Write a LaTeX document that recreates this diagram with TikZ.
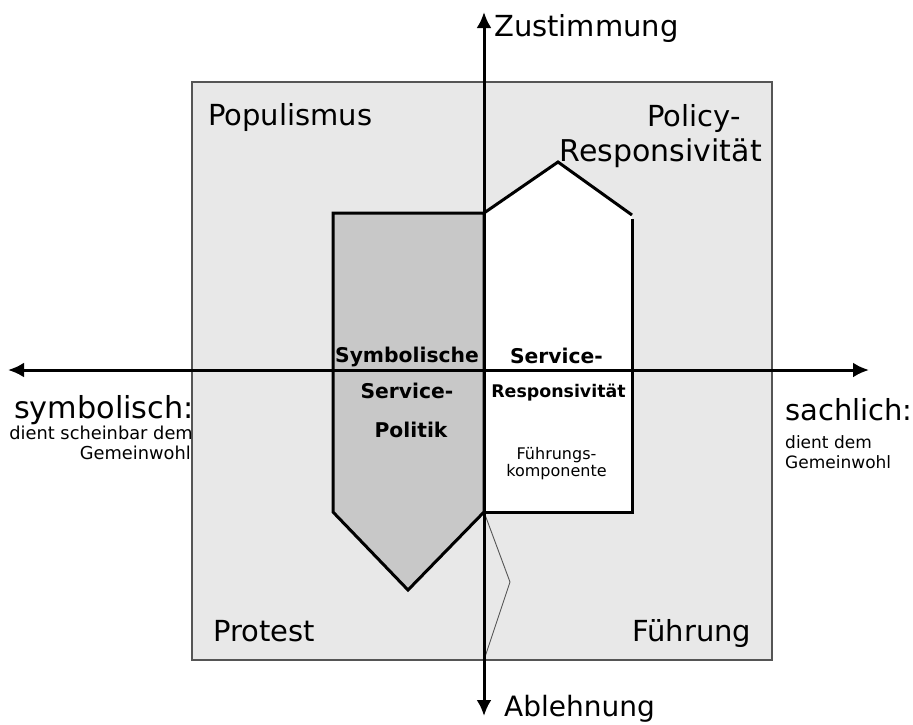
\documentclass[tikz,border=0pt]{standalone}
\usepackage{fontspec}
\setmainfont{DejaVu Sans}
\usetikzlibrary{arrows.meta}
\definecolor{panel}{HTML}{E8E8E8}
\definecolor{shade}{HTML}{C8C8C8}
\definecolor{frame}{HTML}{555555}
\tikzset{
  axis/.style={line width=3pt,{Latex[length=16pt,width=15pt]}-{Latex[length=16pt,width=15pt]}},
  shapeline/.style={line width=3pt,line join=miter},
  big/.style={font=\fontsize{29}{33}\selectfont,inner sep=0pt},
  small/.style={font=\fontsize{17}{20}\selectfont,inner sep=0pt},
  boldlbl/.style={font=\bfseries\fontsize{20.3}{24}\selectfont,inner sep=0pt},
}
\begin{document}
\begin{tikzpicture}[x=1pt,y=-1pt]
\useasboundingbox (0,0) rectangle (913,724);
% quadrant panel
\draw[fill=panel,draw=frame,line width=1.2pt] (192,82) rectangle (772,660);

% grey arrow pointing down
\filldraw[fill=shade,shapeline] (333,213) -- (484,213) -- (484,512) -- (408,590) -- (333,512) -- cycle;
% white house shape
\fill[white] (484,213) -- (558,162) -- (632,215) -- (632,512) -- (484,512) -- cycle;
\draw[shapeline] (484,213) -- (558,162) -- (632,215);
\draw[shapeline] (632,219) -- (632,512) -- (484,512);
% thin outline below the house
\coordinate (hb) at (484,512);
\coordinate (tip) at (510,582);
\coordinate (pb) at (484,660);
\draw[line width=0.9pt,draw=frame] (hb) -- (tip) -- (pb);

% axes
\coordinate (yb) at (484,716);
\coordinate (yt) at (484,12);
\coordinate (xl) at (8,370);
\coordinate (xr) at (869,370);
\draw[axis] (yb) -- (yt);
\draw[axis] (xl) -- (xr);

% axis labels
\node[big,anchor=base west] (zu) at (494,36) {Zustimmung};
\node[big,anchor=base west,font=\fontsize{28}{32}\selectfont] (ab) at (504,716) {Ablehnung};
\node[big,anchor=base east,font=\fontsize{30.3}{34}\selectfont] (sy) at (194,418) {symbolisch:};
\node[small,anchor=base east,font=\fontsize{17.8}{20}\selectfont] (syd1) at (193,439) {dient scheinbar dem};
\node[small,anchor=base east,font=\fontsize{17.8}{20}\selectfont] (syd2) at (191,459) {Gemeinwohl};
\node[big,anchor=base west] (sa) at (785,420) {sachlich:};
\node[small,anchor=base west] (sad1) at (785,448) {dient dem};
\node[small,anchor=base west] (sad2) at (785,468) {Gemeinwohl};

% quadrant labels
\node[big,anchor=base west] (pop) at (208,125) {Populismus};
\node[big,anchor=base east] (pol) at (741,126) {Policy-};
\node[big,anchor=base east,font=\fontsize{30}{34}\selectfont] (res) at (762,161) {Responsivität};
\node[big,anchor=base west] (pro) at (213,641) {Protest};
\node[big,anchor=base west] (fue) at (632,641) {Führung};

% shape labels
\node[boldlbl,anchor=base] (ssp1) at (407,362) {Symbolische};
\node[boldlbl,anchor=base] (ssp2) at (407,398) {Service-};
\node[boldlbl,anchor=base] (ssp3) at (411,437) {Politik};
\node[boldlbl,anchor=base] (sr1) at (556.5,363) {Service-};
\node[boldlbl,anchor=base,font=\bfseries\fontsize{17.4}{20}\selectfont] (sr2) at (558.5,397) {Responsivität};
\node[small,anchor=base,font=\fontsize{16}{18}\selectfont] (fk1) at (556.5,459) {Führungs-};
\node[small,anchor=base,font=\fontsize{16}{18}\selectfont] (fk2) at (556.5,476) {komponente};
\end{tikzpicture}
\end{document}
